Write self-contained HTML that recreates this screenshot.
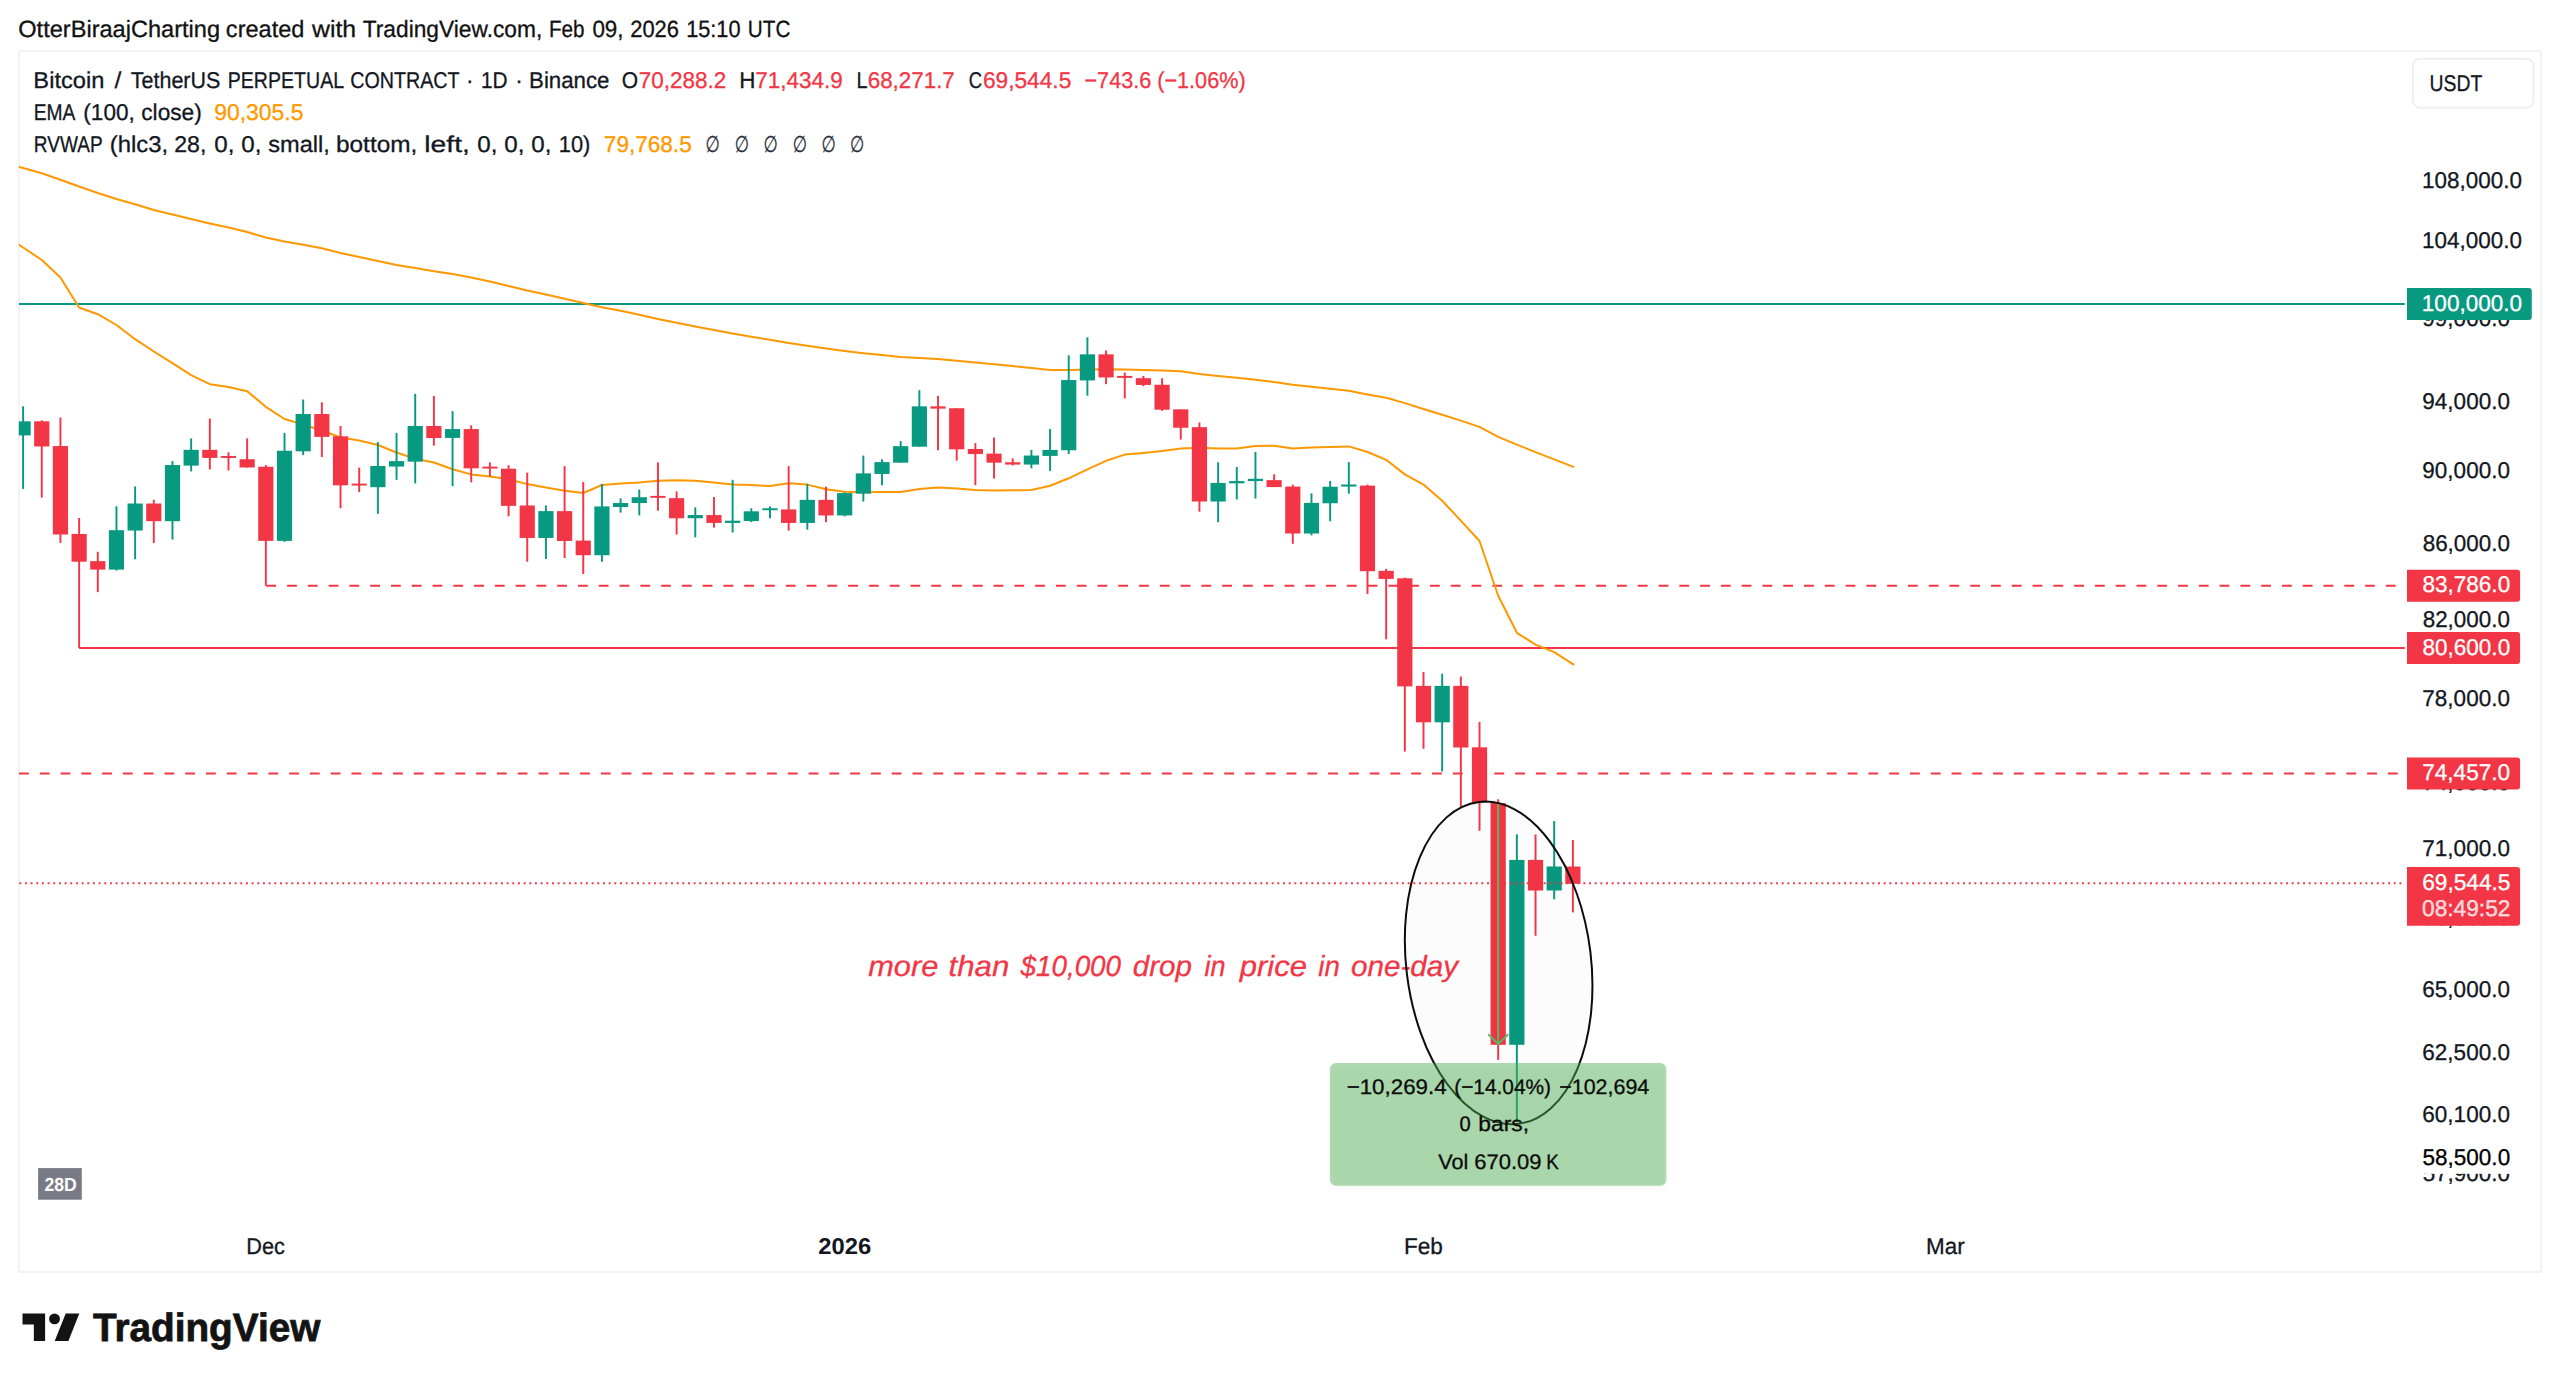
<!DOCTYPE html>
<html lang="en"><head><meta charset="utf-8"><title>BTCUSDT.P chart</title>
<style>
html,body{margin:0;padding:0;background:#fff;}
body{width:2560px;height:1385px;overflow:hidden;}
svg{display:block;}
text{font-family:"Liberation Sans","DejaVu Sans",sans-serif;white-space:pre;text-rendering:geometricPrecision;}
</style></head>
<body>
<svg width="2560" height="1385" viewBox="0 0 2560 1385">
<rect x="0" y="0" width="2560" height="1385" fill="#ffffff"/>
<rect x="19" y="51.1" width="2522.1" height="1220.8" fill="none" stroke="#f3f3f4" stroke-width="2.1"/>
<defs><clipPath id="plot"><rect x="18.8" y="52" width="2386" height="1160"/></clipPath></defs>
<g id="header">
<text y="36.70" font-size="23.5" fill="#111111" stroke="#111111" stroke-width="0.3"><tspan x="18.29" textLength="201.78" lengthAdjust="spacingAndGlyphs">OtterBiraajCharting</tspan> <tspan x="225.86" textLength="78.56" lengthAdjust="spacingAndGlyphs">created</tspan> <tspan x="311.99" textLength="44.11" lengthAdjust="spacingAndGlyphs">with</tspan> <tspan x="362.74" textLength="179.56" lengthAdjust="spacingAndGlyphs">TradingView.com,</tspan> <tspan x="548.99" textLength="35.60" lengthAdjust="spacingAndGlyphs">Feb</tspan> <tspan x="592.40" textLength="31.18" lengthAdjust="spacingAndGlyphs">09,</tspan> <tspan x="630.22" textLength="48.77" lengthAdjust="spacingAndGlyphs">2026</tspan> <tspan x="686.14" textLength="54.40" lengthAdjust="spacingAndGlyphs">15:10</tspan> <tspan x="747.80" textLength="42.61" lengthAdjust="spacingAndGlyphs">UTC</tspan></text>
<text y="87.60" font-size="22.8" fill="#131722" stroke="#131722" stroke-width="0.3"><tspan x="33.35" textLength="71.08" lengthAdjust="spacingAndGlyphs">Bitcoin</tspan> <tspan x="114.40" textLength="6.91" lengthAdjust="spacingAndGlyphs">/</tspan> <tspan x="130.86" textLength="89.44" lengthAdjust="spacingAndGlyphs">TetherUS</tspan> <tspan x="227.68" textLength="115.70" lengthAdjust="spacingAndGlyphs">PERPETUAL</tspan> <tspan x="350.18" textLength="109.06" lengthAdjust="spacingAndGlyphs">CONTRACT</tspan> <tspan x="466.06" textLength="7.59" lengthAdjust="spacingAndGlyphs">·</tspan> <tspan x="481.00" textLength="26.62" lengthAdjust="spacingAndGlyphs">1D</tspan> <tspan x="515.26" textLength="7.59" lengthAdjust="spacingAndGlyphs">·</tspan> <tspan x="529.06" textLength="80.44" lengthAdjust="spacingAndGlyphs">Binance</tspan></text>
<text x="621.72" y="87.60" font-size="22.8" fill="#131722" stroke="#131722" stroke-width="0.3" textLength="16.29" lengthAdjust="spacingAndGlyphs">O</text>
<text x="638.65" y="87.60" font-size="22.8" fill="#f23645" stroke="#f23645" stroke-width="0.3" textLength="87.57" lengthAdjust="spacingAndGlyphs">70,288.2</text>
<text x="739.25" y="87.60" font-size="22.8" fill="#131722" stroke="#131722" stroke-width="0.3" textLength="16.18" lengthAdjust="spacingAndGlyphs">H</text>
<text x="755.15" y="87.60" font-size="22.8" fill="#f23645" stroke="#f23645" stroke-width="0.3" textLength="87.57" lengthAdjust="spacingAndGlyphs">71,434.9</text>
<text x="856.45" y="87.60" font-size="22.8" fill="#131722" stroke="#131722" stroke-width="0.3" textLength="11.05" lengthAdjust="spacingAndGlyphs">L</text>
<text x="867.75" y="87.60" font-size="22.8" fill="#f23645" stroke="#f23645" stroke-width="0.3" textLength="87.05" lengthAdjust="spacingAndGlyphs">68,271.7</text>
<text x="968.74" y="87.60" font-size="22.8" fill="#131722" stroke="#131722" stroke-width="0.3" textLength="13.30" lengthAdjust="spacingAndGlyphs">C</text>
<text x="982.94" y="87.60" font-size="22.8" fill="#f23645" stroke="#f23645" stroke-width="0.3" textLength="88.38" lengthAdjust="spacingAndGlyphs">69,544.5</text>
<text x="1084.49" y="87.60" font-size="22.8" fill="#f23645" stroke="#f23645" stroke-width="0.3" textLength="161.13" lengthAdjust="spacingAndGlyphs">−743.6 (−1.06%)</text>
<text y="119.50" font-size="22.8" fill="#131722" stroke="#131722" stroke-width="0.3"><tspan x="33.73" textLength="40.67" lengthAdjust="spacingAndGlyphs">EMA</tspan> <tspan x="83.34" textLength="51.44" lengthAdjust="spacingAndGlyphs">(100,</tspan> <tspan x="141.29" textLength="60.48" lengthAdjust="spacingAndGlyphs">close)</tspan></text>
<text x="214.23" y="119.50" font-size="22.8" fill="#ff9800" stroke="#ff9800" stroke-width="0.3" textLength="89.20" lengthAdjust="spacingAndGlyphs">90,305.5</text>
<text y="151.70" font-size="22.8" fill="#131722" stroke="#131722" stroke-width="0.3"><tspan x="33.72" textLength="68.58" lengthAdjust="spacingAndGlyphs">RVWAP</tspan> <tspan x="109.78" textLength="58.40" lengthAdjust="spacingAndGlyphs">(hlc3,</tspan> <tspan x="174.22" textLength="32.11" lengthAdjust="spacingAndGlyphs">28,</tspan> <tspan x="214.34" textLength="20.16" lengthAdjust="spacingAndGlyphs">0,</tspan> <tspan x="241.34" textLength="20.16" lengthAdjust="spacingAndGlyphs">0,</tspan> <tspan x="268.23" textLength="61.63" lengthAdjust="spacingAndGlyphs">small,</tspan> <tspan x="335.98" textLength="81.35" lengthAdjust="spacingAndGlyphs">bottom,</tspan> <tspan x="424.33" textLength="45.58" lengthAdjust="spacingAndGlyphs">left,</tspan> <tspan x="477.34" textLength="20.16" lengthAdjust="spacingAndGlyphs">0,</tspan> <tspan x="504.24" textLength="20.16" lengthAdjust="spacingAndGlyphs">0,</tspan> <tspan x="531.24" textLength="20.16" lengthAdjust="spacingAndGlyphs">0,</tspan> <tspan x="558.73" textLength="31.60" lengthAdjust="spacingAndGlyphs">10)</tspan></text>
<text x="603.84" y="151.70" font-size="22.8" fill="#ff9800" stroke="#ff9800" stroke-width="0.3" textLength="87.87" lengthAdjust="spacingAndGlyphs">79,768.5</text>
<text x="705.48" y="151.70" font-size="22.8" fill="#2a2e39" stroke="#2a2e39" stroke-width="0.3" textLength="14.23" lengthAdjust="spacingAndGlyphs">∅</text>
<text x="734.78" y="151.70" font-size="22.8" fill="#2a2e39" stroke="#2a2e39" stroke-width="0.3" textLength="14.23" lengthAdjust="spacingAndGlyphs">∅</text>
<text x="763.58" y="151.70" font-size="22.8" fill="#2a2e39" stroke="#2a2e39" stroke-width="0.3" textLength="14.23" lengthAdjust="spacingAndGlyphs">∅</text>
<text x="792.68" y="151.70" font-size="22.8" fill="#2a2e39" stroke="#2a2e39" stroke-width="0.3" textLength="14.23" lengthAdjust="spacingAndGlyphs">∅</text>
<text x="821.48" y="151.70" font-size="22.8" fill="#2a2e39" stroke="#2a2e39" stroke-width="0.3" textLength="14.23" lengthAdjust="spacingAndGlyphs">∅</text>
<text x="849.98" y="151.70" font-size="22.8" fill="#2a2e39" stroke="#2a2e39" stroke-width="0.3" textLength="14.23" lengthAdjust="spacingAndGlyphs">∅</text>
</g>
<rect x="2413" y="58.7" width="120.5" height="49" rx="7" fill="#fff" stroke="#f0f0f1" stroke-width="2"/>
<text x="2429.59" y="90.60" font-size="22.8" fill="#131722" stroke="#131722" stroke-width="0.3" textLength="52.74" lengthAdjust="spacingAndGlyphs">USDT</text>
<g id="price-axis">
<text x="2422.00" y="187.75" font-size="22.8" fill="#131722" stroke="#131722" stroke-width="0.3" textLength="99.96" lengthAdjust="spacingAndGlyphs">108,000.0</text>
<text x="2422.00" y="247.90" font-size="22.8" fill="#131722" stroke="#131722" stroke-width="0.3" textLength="99.96" lengthAdjust="spacingAndGlyphs">104,000.0</text>
<text x="2422.34" y="326.43" font-size="22.8" fill="#131722" stroke="#131722" stroke-width="0.3" textLength="87.62" lengthAdjust="spacingAndGlyphs">99,000.0</text>
<text x="2422.34" y="409.03" font-size="22.8" fill="#131722" stroke="#131722" stroke-width="0.3" textLength="87.62" lengthAdjust="spacingAndGlyphs">94,000.0</text>
<text x="2422.34" y="478.34" font-size="22.8" fill="#131722" stroke="#131722" stroke-width="0.3" textLength="87.62" lengthAdjust="spacingAndGlyphs">90,000.0</text>
<text x="2422.70" y="550.81" font-size="22.8" fill="#131722" stroke="#131722" stroke-width="0.3" textLength="87.26" lengthAdjust="spacingAndGlyphs">86,000.0</text>
<text x="2422.70" y="626.72" font-size="22.8" fill="#131722" stroke="#131722" stroke-width="0.3" textLength="87.26" lengthAdjust="spacingAndGlyphs">82,000.0</text>
<text x="2422.34" y="706.43" font-size="22.8" fill="#131722" stroke="#131722" stroke-width="0.3" textLength="87.62" lengthAdjust="spacingAndGlyphs">78,000.0</text>
<text x="2422.34" y="790.34" font-size="22.8" fill="#131722" stroke="#131722" stroke-width="0.3" textLength="87.62" lengthAdjust="spacingAndGlyphs">74,000.0</text>
<text x="2422.34" y="856.30" font-size="22.8" fill="#131722" stroke="#131722" stroke-width="0.3" textLength="87.62" lengthAdjust="spacingAndGlyphs">71,000.0</text>
<text x="2422.34" y="925.11" font-size="22.8" fill="#131722" stroke="#131722" stroke-width="0.3" textLength="87.62" lengthAdjust="spacingAndGlyphs">68,000.0</text>
<text x="2422.34" y="997.03" font-size="22.8" fill="#131722" stroke="#131722" stroke-width="0.3" textLength="87.62" lengthAdjust="spacingAndGlyphs">65,000.0</text>
<text x="2422.34" y="1059.54" font-size="22.8" fill="#131722" stroke="#131722" stroke-width="0.3" textLength="87.62" lengthAdjust="spacingAndGlyphs">62,500.0</text>
<text x="2422.34" y="1121.95" font-size="22.8" fill="#131722" stroke="#131722" stroke-width="0.3" textLength="87.62" lengthAdjust="spacingAndGlyphs">60,100.0</text>
<text x="2422.70" y="1181.39" font-size="22.8" fill="#131722" stroke="#131722" stroke-width="0.3" textLength="87.26" lengthAdjust="spacingAndGlyphs">57,900.0</text>
</g>
<g id="plot" clip-path="url(#plot)">
<line x1="19" x2="2405" y1="304" y2="304" stroke="#089981" stroke-width="2"/>
<line x1="19" x2="2400" y1="773.6" y2="773.6" stroke="#f23645" stroke-width="2" stroke-dasharray="9.8 10.98"/>
<line x1="266.3" x2="2400" y1="585.75" y2="585.75" stroke="#f23645" stroke-width="2" stroke-dasharray="9.8 10.98"/>
<line x1="79.12" x2="2405" y1="648" y2="648" stroke="#f23645" stroke-width="2"/>
<text y="975.50" font-size="29" fill="#f23645" stroke="#f23645" stroke-width="0.3" font-style="italic"><tspan x="868.27" textLength="70.00" lengthAdjust="spacingAndGlyphs">more</tspan> <tspan x="948.52" textLength="60.74" lengthAdjust="spacingAndGlyphs">than</tspan> <tspan x="1020.44" textLength="100.64" lengthAdjust="spacingAndGlyphs">$10,000</tspan> <tspan x="1132.83" textLength="59.16" lengthAdjust="spacingAndGlyphs">drop</tspan> <tspan x="1204.58" textLength="21.02" lengthAdjust="spacingAndGlyphs">in</tspan> <tspan x="1239.72" textLength="67.30" lengthAdjust="spacingAndGlyphs">price</tspan> <tspan x="1318.32" textLength="21.56" lengthAdjust="spacingAndGlyphs">in</tspan> <tspan x="1351.07" textLength="107.07" lengthAdjust="spacingAndGlyphs">one-day</tspan></text>
<polyline points="18.0,166.6 23.1,168.0 41.8,173.2 60.4,179.8 79.1,186.5 97.8,193.0 116.5,199.0 135.1,204.2 153.8,210.0 172.5,214.5 191.1,219.0 209.8,223.5 228.5,227.5 247.2,232.0 265.8,237.5 284.5,241.5 303.2,244.8 321.9,248.2 340.5,253.0 359.2,257.0 377.9,261.0 396.5,265.0 415.2,268.0 433.9,271.2 452.6,274.0 471.2,277.5 489.9,281.5 508.6,286.0 527.2,290.5 545.9,294.5 564.6,298.8 583.3,303.0 601.9,307.2 620.6,310.8 639.3,314.7 657.9,318.9 676.6,322.8 695.3,326.6 714.0,330.1 732.6,333.5 751.3,336.7 770.0,339.7 788.7,342.9 807.3,345.7 826.0,348.5 844.7,351.0 863.3,353.2 882.0,355.0 900.7,356.9 919.4,358.0 938.0,358.9 956.7,360.7 975.4,362.5 994.0,364.3 1012.7,366.1 1031.4,368.0 1050.1,370.0 1068.7,369.9 1087.4,369.4 1106.1,369.2 1124.7,369.6 1143.4,369.9 1162.1,370.5 1180.8,371.2 1199.4,373.9 1218.1,375.9 1236.8,377.8 1255.5,379.7 1274.1,381.9 1292.8,384.8 1311.5,386.8 1330.1,388.8 1348.8,390.8 1367.5,394.4 1386.2,397.8 1404.8,403.1 1423.5,409.0 1442.2,414.8 1460.8,420.6 1479.5,426.9 1498.2,436.9 1516.9,444.6 1535.5,452.1 1554.2,459.4 1574.1,467.1" fill="none" stroke="#ff9800" stroke-width="2" stroke-linejoin="round"/>
<polyline points="18.0,244.1 23.1,247.5 41.8,260.0 60.4,277.5 79.1,307.5 97.8,314.2 116.5,325.0 135.1,339.2 153.8,351.5 172.5,363.2 191.1,375.2 209.8,384.2 228.5,387.0 247.2,391.2 265.8,406.8 284.5,419.0 303.2,424.5 321.9,430.5 340.5,437.5 359.2,440.5 377.9,445.0 396.5,452.5 415.2,458.8 433.9,462.5 452.6,469.2 471.2,474.4 489.9,476.6 508.6,479.3 527.2,484.1 545.9,487.6 564.6,490.8 583.3,493.0 601.9,485.0 620.6,483.5 639.3,482.4 657.9,480.7 676.6,480.3 695.3,480.7 714.0,482.4 732.6,484.6 751.3,485.0 770.0,486.1 788.7,483.3 807.3,484.6 826.0,489.2 844.7,491.8 863.3,492.2 882.0,492.1 900.7,492.0 919.4,489.0 938.0,487.5 956.7,488.4 975.4,490.1 994.0,490.5 1012.7,490.3 1031.4,489.9 1050.1,485.8 1068.7,478.3 1087.4,469.4 1106.1,460.8 1124.7,454.6 1143.4,452.9 1162.1,451.0 1180.8,448.6 1199.4,447.7 1218.1,448.6 1236.8,448.4 1255.5,446.1 1274.1,445.8 1292.8,448.4 1311.5,447.5 1330.1,446.9 1348.8,446.4 1367.5,452.0 1386.2,459.8 1404.8,474.4 1423.5,484.6 1442.2,500.8 1460.8,520.6 1479.5,541.0 1498.2,595.8 1516.9,632.8 1535.5,644.6 1554.2,652.1 1574.1,664.8" fill="none" stroke="#ff9800" stroke-width="2" stroke-linejoin="round"/>
<g id="candles"><rect x="22.13" y="406.28" width="1.94" height="82.60" fill="#089981"/><rect x="40.80" y="420.36" width="1.94" height="77.34" fill="#f23645"/><rect x="59.47" y="417.54" width="1.94" height="125.40" fill="#f23645"/><rect x="78.15" y="517.98" width="1.94" height="130.02" fill="#f23645"/><rect x="96.82" y="551.77" width="1.94" height="40.36" fill="#f23645"/><rect x="115.49" y="506.34" width="1.94" height="64.20" fill="#089981"/><rect x="134.16" y="486.44" width="1.94" height="72.84" fill="#089981"/><rect x="152.83" y="499.77" width="1.94" height="43.17" fill="#f23645"/><rect x="171.51" y="461.10" width="1.94" height="78.46" fill="#089981"/><rect x="190.18" y="438.38" width="1.94" height="33.04" fill="#089981"/><rect x="208.85" y="418.48" width="1.94" height="51.06" fill="#f23645"/><rect x="227.52" y="452.27" width="1.94" height="18.21" fill="#f23645"/><rect x="246.19" y="438.38" width="1.94" height="29.10" fill="#f23645"/><rect x="264.87" y="465.04" width="1.94" height="120.71" fill="#f23645"/><rect x="283.54" y="432.94" width="1.94" height="108.88" fill="#089981"/><rect x="302.21" y="399.52" width="1.94" height="55.57" fill="#089981"/><rect x="320.88" y="402.34" width="1.94" height="54.63" fill="#f23645"/><rect x="339.55" y="425.99" width="1.94" height="82.22" fill="#f23645"/><rect x="358.23" y="467.67" width="1.94" height="24.40" fill="#f23645"/><rect x="376.90" y="442.14" width="1.94" height="71.71" fill="#089981"/><rect x="395.57" y="432.94" width="1.94" height="46.93" fill="#089981"/><rect x="414.24" y="393.89" width="1.94" height="89.55" fill="#089981"/><rect x="432.91" y="395.96" width="1.94" height="49.74" fill="#f23645"/><rect x="451.59" y="411.06" width="1.94" height="75.09" fill="#089981"/><rect x="470.26" y="425.33" width="1.94" height="57.07" fill="#f23645"/><rect x="488.93" y="462.31" width="1.94" height="14.08" fill="#f23645"/><rect x="507.60" y="465.12" width="1.94" height="51.25" fill="#f23645"/><rect x="526.27" y="472.63" width="1.94" height="89.17" fill="#f23645"/><rect x="544.95" y="505.49" width="1.94" height="53.50" fill="#089981"/><rect x="563.62" y="466.06" width="1.94" height="91.99" fill="#f23645"/><rect x="582.29" y="482.02" width="1.94" height="91.98" fill="#f23645"/><rect x="600.96" y="483.90" width="1.94" height="77.90" fill="#089981"/><rect x="619.63" y="498.35" width="1.94" height="14.27" fill="#089981"/><rect x="638.31" y="489.53" width="1.94" height="25.90" fill="#089981"/><rect x="656.98" y="462.31" width="1.94" height="48.43" fill="#f23645"/><rect x="675.65" y="491.41" width="1.94" height="43.17" fill="#f23645"/><rect x="694.32" y="507.36" width="1.94" height="30.04" fill="#089981"/><rect x="712.99" y="497.04" width="1.94" height="30.60" fill="#f23645"/><rect x="731.67" y="479.77" width="1.94" height="52.75" fill="#089981"/><rect x="750.34" y="508.30" width="1.94" height="13.89" fill="#089981"/><rect x="769.01" y="506.42" width="1.94" height="11.83" fill="#089981"/><rect x="787.68" y="466.06" width="1.94" height="64.58" fill="#f23645"/><rect x="806.35" y="483.90" width="1.94" height="45.80" fill="#089981"/><rect x="825.03" y="486.71" width="1.94" height="35.48" fill="#f23645"/><rect x="843.70" y="492.34" width="1.94" height="24.03" fill="#089981"/><rect x="862.37" y="455.55" width="1.94" height="45.99" fill="#089981"/><rect x="881.04" y="459.29" width="1.94" height="25.91" fill="#089981"/><rect x="899.71" y="441.08" width="1.94" height="21.59" fill="#089981"/><rect x="918.39" y="390.21" width="1.94" height="56.50" fill="#089981"/><rect x="937.06" y="395.84" width="1.94" height="54.44" fill="#f23645"/><rect x="955.73" y="408.23" width="1.94" height="52.37" fill="#f23645"/><rect x="974.40" y="443.15" width="1.94" height="42.05" fill="#f23645"/><rect x="993.07" y="437.51" width="1.94" height="41.12" fill="#f23645"/><rect x="1011.75" y="458.35" width="1.94" height="7.14" fill="#f23645"/><rect x="1030.42" y="449.90" width="1.94" height="18.40" fill="#089981"/><rect x="1049.09" y="429.07" width="1.94" height="41.86" fill="#089981"/><rect x="1067.76" y="355.29" width="1.94" height="98.74" fill="#089981"/><rect x="1086.43" y="337.27" width="1.94" height="58.38" fill="#089981"/><rect x="1105.11" y="350.41" width="1.94" height="33.79" fill="#f23645"/><rect x="1123.78" y="372.56" width="1.94" height="25.91" fill="#f23645"/><rect x="1142.45" y="375.94" width="1.94" height="10.33" fill="#f23645"/><rect x="1161.12" y="378.19" width="1.94" height="32.67" fill="#f23645"/><rect x="1179.79" y="409.36" width="1.94" height="30.22" fill="#f23645"/><rect x="1198.47" y="422.50" width="1.94" height="89.17" fill="#f23645"/><rect x="1217.14" y="462.29" width="1.94" height="59.89" fill="#089981"/><rect x="1235.81" y="466.99" width="1.94" height="32.47" fill="#089981"/><rect x="1254.48" y="451.97" width="1.94" height="46.55" fill="#089981"/><rect x="1273.15" y="474.31" width="1.94" height="12.76" fill="#f23645"/><rect x="1291.83" y="484.68" width="1.94" height="59.13" fill="#f23645"/><rect x="1310.50" y="493.31" width="1.94" height="42.05" fill="#089981"/><rect x="1329.17" y="480.92" width="1.94" height="40.36" fill="#089981"/><rect x="1347.84" y="462.15" width="1.94" height="31.54" fill="#089981"/><rect x="1366.51" y="484.68" width="1.94" height="109.25" fill="#f23645"/><rect x="1385.19" y="568.78" width="1.94" height="70.58" fill="#f23645"/><rect x="1403.86" y="577.60" width="1.94" height="174.00" fill="#f23645"/><rect x="1422.53" y="671.90" width="1.94" height="76.90" fill="#f23645"/><rect x="1441.20" y="673.70" width="1.94" height="97.80" fill="#089981"/><rect x="1459.87" y="676.50" width="1.94" height="130.90" fill="#f23645"/><rect x="1478.55" y="721.90" width="1.94" height="108.90" fill="#f23645"/><rect x="1497.22" y="799.30" width="1.94" height="260.60" fill="#f23645"/><rect x="1515.89" y="834.40" width="1.94" height="287.60" fill="#089981"/><rect x="1534.56" y="834.40" width="1.94" height="101.40" fill="#f23645"/><rect x="1553.23" y="821.10" width="1.94" height="78.20" fill="#089981"/><rect x="1571.91" y="840.00" width="1.94" height="72.40" fill="#f23645"/><rect x="15.50" y="421.30" width="15.2" height="14.08" fill="#089981"/><rect x="34.17" y="421.30" width="15.2" height="25.15" fill="#f23645"/><rect x="52.84" y="446.08" width="15.2" height="88.42" fill="#f23645"/><rect x="71.52" y="533.93" width="15.2" height="27.79" fill="#f23645"/><rect x="90.19" y="561.15" width="15.2" height="8.45" fill="#f23645"/><rect x="108.86" y="530.18" width="15.2" height="39.42" fill="#089981"/><rect x="127.53" y="503.52" width="15.2" height="27.03" fill="#089981"/><rect x="146.20" y="503.52" width="15.2" height="17.65" fill="#f23645"/><rect x="164.88" y="465.04" width="15.2" height="56.13" fill="#089981"/><rect x="183.55" y="449.83" width="15.2" height="15.77" fill="#089981"/><rect x="202.22" y="449.83" width="15.2" height="8.08" fill="#f23645"/><rect x="220.89" y="456.03" width="15.2" height="1.90" fill="#f23645"/><rect x="239.56" y="459.22" width="15.2" height="8.26" fill="#f23645"/><rect x="258.24" y="466.73" width="15.2" height="74.15" fill="#f23645"/><rect x="276.91" y="450.77" width="15.2" height="90.11" fill="#089981"/><rect x="295.58" y="413.98" width="15.2" height="37.35" fill="#089981"/><rect x="314.25" y="413.98" width="15.2" height="22.90" fill="#f23645"/><rect x="332.92" y="436.32" width="15.2" height="48.99" fill="#f23645"/><rect x="351.60" y="483.62" width="15.2" height="1.90" fill="#f23645"/><rect x="370.27" y="465.98" width="15.2" height="21.21" fill="#089981"/><rect x="388.94" y="461.10" width="15.2" height="5.44" fill="#089981"/><rect x="407.61" y="425.99" width="15.2" height="35.67" fill="#089981"/><rect x="426.28" y="425.99" width="15.2" height="12.02" fill="#f23645"/><rect x="444.96" y="429.08" width="15.2" height="8.83" fill="#089981"/><rect x="463.63" y="429.08" width="15.2" height="39.24" fill="#f23645"/><rect x="482.30" y="466.63" width="15.2" height="1.90" fill="#f23645"/><rect x="500.97" y="468.69" width="15.2" height="37.17" fill="#f23645"/><rect x="519.64" y="505.49" width="15.2" height="32.47" fill="#f23645"/><rect x="538.32" y="511.12" width="15.2" height="26.84" fill="#089981"/><rect x="556.99" y="511.12" width="15.2" height="29.84" fill="#f23645"/><rect x="575.66" y="540.59" width="15.2" height="14.64" fill="#f23645"/><rect x="594.33" y="506.42" width="15.2" height="48.81" fill="#089981"/><rect x="613.00" y="503.04" width="15.2" height="3.95" fill="#089981"/><rect x="631.68" y="497.23" width="15.2" height="5.81" fill="#089981"/><rect x="650.35" y="495.91" width="15.2" height="1.90" fill="#f23645"/><rect x="669.02" y="498.16" width="15.2" height="20.09" fill="#f23645"/><rect x="687.69" y="515.06" width="15.2" height="3.19" fill="#089981"/><rect x="706.36" y="515.06" width="15.2" height="7.88" fill="#f23645"/><rect x="725.04" y="520.69" width="15.2" height="2.25" fill="#089981"/><rect x="743.71" y="511.30" width="15.2" height="9.77" fill="#089981"/><rect x="762.38" y="508.30" width="15.2" height="1.90" fill="#089981"/><rect x="781.05" y="509.43" width="15.2" height="13.51" fill="#f23645"/><rect x="799.72" y="499.85" width="15.2" height="23.09" fill="#089981"/><rect x="818.40" y="499.85" width="15.2" height="15.58" fill="#f23645"/><rect x="837.07" y="493.10" width="15.2" height="22.33" fill="#089981"/><rect x="855.74" y="473.38" width="15.2" height="20.28" fill="#089981"/><rect x="874.41" y="462.11" width="15.2" height="11.82" fill="#089981"/><rect x="893.08" y="446.15" width="15.2" height="16.52" fill="#089981"/><rect x="911.76" y="406.35" width="15.2" height="40.36" fill="#089981"/><rect x="930.43" y="406.35" width="15.2" height="2.26" fill="#f23645"/><rect x="949.10" y="408.23" width="15.2" height="41.11" fill="#f23645"/><rect x="967.77" y="448.97" width="15.2" height="5.06" fill="#f23645"/><rect x="986.44" y="453.66" width="15.2" height="9.01" fill="#f23645"/><rect x="1005.12" y="462.29" width="15.2" height="2.26" fill="#f23645"/><rect x="1023.79" y="455.54" width="15.2" height="9.01" fill="#089981"/><rect x="1042.46" y="449.90" width="15.2" height="6.01" fill="#089981"/><rect x="1061.13" y="380.07" width="15.2" height="70.21" fill="#089981"/><rect x="1079.80" y="354.35" width="15.2" height="26.10" fill="#089981"/><rect x="1098.48" y="354.35" width="15.2" height="23.09" fill="#f23645"/><rect x="1117.15" y="375.94" width="15.2" height="1.90" fill="#f23645"/><rect x="1135.82" y="378.19" width="15.2" height="6.76" fill="#f23645"/><rect x="1154.49" y="384.76" width="15.2" height="24.97" fill="#f23645"/><rect x="1173.16" y="409.36" width="15.2" height="18.39" fill="#f23645"/><rect x="1191.84" y="427.19" width="15.2" height="74.34" fill="#f23645"/><rect x="1210.51" y="482.94" width="15.2" height="18.59" fill="#089981"/><rect x="1229.18" y="481.07" width="15.2" height="2.25" fill="#089981"/><rect x="1247.85" y="478.81" width="15.2" height="2.26" fill="#089981"/><rect x="1266.52" y="480.13" width="15.2" height="6.94" fill="#f23645"/><rect x="1285.20" y="486.56" width="15.2" height="46.93" fill="#f23645"/><rect x="1303.87" y="502.89" width="15.2" height="30.60" fill="#089981"/><rect x="1322.54" y="486.74" width="15.2" height="16.52" fill="#089981"/><rect x="1341.21" y="484.49" width="15.2" height="2.07" fill="#089981"/><rect x="1359.88" y="485.62" width="15.2" height="85.60" fill="#f23645"/><rect x="1378.56" y="570.84" width="15.2" height="8.07" fill="#f23645"/><rect x="1397.23" y="578.30" width="15.2" height="108.10" fill="#f23645"/><rect x="1415.90" y="685.90" width="15.2" height="36.40" fill="#f23645"/><rect x="1434.57" y="685.90" width="15.2" height="36.40" fill="#089981"/><rect x="1453.24" y="685.90" width="15.2" height="61.60" fill="#f23645"/><rect x="1471.92" y="747.30" width="15.2" height="55.40" fill="#f23645"/><rect x="1490.59" y="803.00" width="15.2" height="241.80" fill="#f23645"/><rect x="1509.26" y="859.90" width="15.2" height="184.90" fill="#089981"/><rect x="1527.93" y="859.90" width="15.2" height="30.60" fill="#f23645"/><rect x="1546.60" y="866.50" width="15.2" height="24.00" fill="#089981"/><rect x="1565.28" y="866.50" width="15.2" height="17.30" fill="#f23645"/></g>
<line x1="19.3" x2="2402" y1="883.3" y2="883.3" stroke="#f23645" stroke-width="2" stroke-dasharray="1.9 3.767"/>
<g stroke="#5fb865" stroke-width="2" fill="none"><line x1="1498.2" x2="1498.2" y1="802.7" y2="1043.5"/><polyline points="1488.3,1034.2 1498.2,1044.2 1508.1,1034.2" stroke-linejoin="miter"/></g>
<ellipse cx="1498.64" cy="962.89" rx="92.41" ry="162.14" transform="rotate(-6.97 1498.64 962.89)" fill="#000" fill-opacity="0.012" stroke="#0c0c0c" stroke-width="2"/>
<defs><filter id="sh" x="-10%" y="-20%" width="120%" height="150%"><feGaussianBlur stdDeviation="3"/></filter></defs>
<rect x="1331" y="1066" width="334" height="122" rx="5" fill="#000" fill-opacity="0.035" filter="url(#sh)"/>
<rect x="1330" y="1063" width="336.3" height="122.7" rx="6" fill="#4caf50" fill-opacity="0.455"/>
<text y="1093.90" font-size="21" fill="#0b0b0b" stroke="#0b0b0b" stroke-width="0.3"><tspan x="1346.65" textLength="100.00" lengthAdjust="spacingAndGlyphs">−10,269.4</tspan> <tspan x="1454.22" textLength="96.86" lengthAdjust="spacingAndGlyphs">(−14.04%)</tspan> <tspan x="1559.19" textLength="90.09" lengthAdjust="spacingAndGlyphs">−102,694</tspan></text>
<text y="1131.40" font-size="21" fill="#0b0b0b" stroke="#0b0b0b" stroke-width="0.3"><tspan x="1459.57" textLength="11.23" lengthAdjust="spacingAndGlyphs">0</tspan> <tspan x="1478.27" textLength="50.73" lengthAdjust="spacingAndGlyphs">bars,</tspan></text>
<text y="1168.90" font-size="21" fill="#0b0b0b" stroke="#0b0b0b" stroke-width="0.3"><tspan x="1438.30" textLength="30.02" lengthAdjust="spacingAndGlyphs">Vol</tspan> <tspan x="1474.27" textLength="67.22" lengthAdjust="spacingAndGlyphs">670.09</tspan> <tspan x="1546.23" textLength="12.58" lengthAdjust="spacingAndGlyphs">K</tspan></text>
</g>
<rect x="38.1" y="1168.1" width="43.7" height="31.6" fill="#787b86"/>
<text x="44.45" y="1190.60" font-size="19" fill="#fff" font-weight="bold" textLength="32.36" lengthAdjust="spacingAndGlyphs">28D</text>
<g id="labels">
<path d="M2407 288.00H2528.80A3 3 0 0 1 2531.80 291.00V317.00A3 3 0 0 1 2528.80 320.00H2407Z" fill="#089981"/>
<path d="M2407 569.70H2517.10A3 3 0 0 1 2520.10 572.70V598.70A3 3 0 0 1 2517.10 601.70H2407Z" fill="#f23645"/>
<path d="M2407 632.00H2517.10A3 3 0 0 1 2520.10 635.00V661.00A3 3 0 0 1 2517.10 664.00H2407Z" fill="#f23645"/>
<path d="M2407 757.60H2517.10A3 3 0 0 1 2520.10 760.60V786.60A3 3 0 0 1 2517.10 789.60H2407Z" fill="#f23645"/>
<path d="M2407 867.00H2517.10A3 3 0 0 1 2520.10 870.00V922.80A3 3 0 0 1 2517.10 925.80H2407Z" fill="#f23645"/>
<rect x="2416" y="1141.5" width="104" height="32.3" fill="#fff"/>
<text x="2421.79" y="311.00" font-size="22.8" fill="#fff" stroke="#fff" stroke-width="0.3" textLength="100.37" lengthAdjust="spacingAndGlyphs">100,000.0</text>
<text x="2422.50" y="592.30" font-size="22.8" fill="#fff" stroke="#fff" stroke-width="0.3" textLength="87.66" lengthAdjust="spacingAndGlyphs">83,786.0</text>
<text x="2422.50" y="654.85" font-size="22.8" fill="#fff" stroke="#fff" stroke-width="0.3" textLength="87.66" lengthAdjust="spacingAndGlyphs">80,600.0</text>
<text x="2422.14" y="780.40" font-size="22.8" fill="#fff" stroke="#fff" stroke-width="0.3" textLength="88.02" lengthAdjust="spacingAndGlyphs">74,457.0</text>
<text x="2422.14" y="889.50" font-size="22.8" fill="#fff" stroke="#fff" stroke-width="0.3" textLength="88.38" lengthAdjust="spacingAndGlyphs">69,544.5</text>
<text x="2422.09" y="915.75" font-size="22.8" fill="#fff" stroke="#fff" stroke-width="0.3" fill-opacity="0.8" textLength="88.33" lengthAdjust="spacingAndGlyphs">08:49:52</text>
<text x="2422.50" y="1164.85" font-size="22.8" fill="#000" stroke="#000" stroke-width="0.3" textLength="87.66" lengthAdjust="spacingAndGlyphs">58,500.0</text>
</g>
<g id="time-axis">
<text x="246.31" y="1253.50" font-size="22.8" fill="#131722" stroke="#131722" stroke-width="0.3" textLength="38.53" lengthAdjust="spacingAndGlyphs">Dec</text>
<text x="818.36" y="1253.50" font-size="22.8" fill="#131722" font-weight="bold" textLength="52.83" lengthAdjust="spacingAndGlyphs">2026</text>
<text x="1404.04" y="1253.50" font-size="22.8" fill="#131722" stroke="#131722" stroke-width="0.3" textLength="38.88" lengthAdjust="spacingAndGlyphs">Feb</text>
<text x="1926.05" y="1253.50" font-size="22.8" fill="#131722" stroke="#131722" stroke-width="0.3" textLength="38.56" lengthAdjust="spacingAndGlyphs">Mar</text>
</g>
<g id="logo" fill="#131313"><path d="M22.5 1313.4H45.1V1341.1H33.85V1324.6H22.5Z"/><circle cx="54.5" cy="1318.9" r="5.45"/><path d="M65.7 1313.4H79.3L68.4 1341.1H54.7Z"/></g>
<text x="92.90" y="1340.80" font-size="39.5" fill="#131313" font-weight="bold" stroke="#131313" stroke-width="0.8" textLength="227.47" lengthAdjust="spacingAndGlyphs">TradingView</text>
</svg>
</body></html>
